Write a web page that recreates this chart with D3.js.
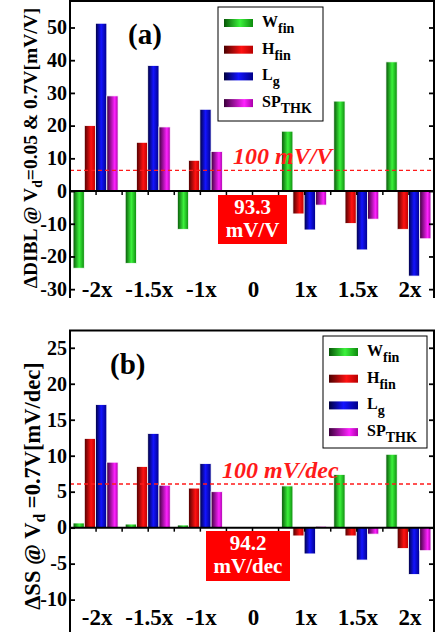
<!DOCTYPE html>
<html>
<head>
<meta charset="utf-8">
<script src="https://cdn.jsdelivr.net/npm/d3@7"></script>
<style>
  body { margin: 0; background: white; }
  text { font-family: "Liberation Serif", "DejaVu Serif", serif; font-weight: bold; }
</style>
</head>
<body>
<div id="container"></div>
<script>
let w = 435;
let h = 632;

// data
let categories = ['-2x', '-1.5x', '-1x', '0', '1x', '1.5x', '2x'];
let seriesNames = ['Wfin', 'Hfin', 'Lg', 'SPTHK'];

let dibl_Wfin  = [-23.6, -22.1, -11.7, 0, 18.3, 27.5, 39.5];
let dibl_Hfin  = [20.0, 14.9, 9.4, 0, -7.0, -9.9, -11.7];
let dibl_Lg    = [51.3, 38.4, 25.0, 0, -11.9, -18.0, -26.0];
let dibl_SPTHK = [29.1, 19.6, 12.1, 0, -4.3, -8.6, -14.6];

let ss_Wfin  = [0.65, 0.5, 0.37, 0, 5.8, 7.4, 10.2];
let ss_Hfin  = [12.4, 8.5, 5.5, 0, -1.15, -1.15, -2.9];
let ss_Lg    = [17.1, 13.1, 8.9, 0, -3.65, -4.5, -6.5];
let ss_SPTHK = [9.1, 5.9, 5.0, 0, 0.2, -0.9, -3.2];

let diblTicks = [-30, -20, -10, 0, 10, 20, 30, 40, 50];
let ssTicks = [-10, -5, 0, 5, 10, 15, 20, 25];

let viz = d3.select('#container')
  .append('svg')
    .attr('width', w)
    .attr('height', h)
    .style('background-color', 'white')
  ;

// cylinder-like gradients for the bars
let gradStops = {
  Wfin:  [['0%', '#075507'], ['55%', '#3cf23c'], ['100%', '#0d8a0d']],
  Hfin:  [['0%', '#4a0000'], ['60%', '#ff1212'], ['100%', '#b80000']],
  Lg:    [['0%', '#00003e'], ['50%', '#1414ff'], ['100%', '#000088']],
  SPTHK: [['0%', '#3a003a'], ['70%', '#ff22ff'], ['100%', '#a800a8']]
};
let defs = viz.append('defs');
seriesNames.forEach(function(s){
  let g = defs.append('linearGradient').attr('id', 'g_' + s)
    .attr('x1', '0%').attr('x2', '100%').attr('y1', '0%').attr('y2', '0%');
  gradStops[s].forEach(function(st){
    g.append('stop').attr('offset', st[0]).attr('stop-color', st[1]);
  });
});

let xLeft = 70;
let xRight = 434;

let xScale = d3.scaleBand().domain(categories).range([xLeft, w]).padding(0);
let innerScale = d3.scaleBand().domain(seriesNames).range([-23, 22]).padding(0);

let subs = { Wfin: ['W', 'fin'], Hfin: ['H', 'fin'], Lg: ['L', 'g'], SPTHK: ['SP', 'THK'] };

function drawPanel(cfg){
  let yScale = d3.scaleLinear().domain(cfg.domain).range(cfg.range);
  let g = viz.append('g');

  // bars
  let rows = [];
  seriesNames.forEach(function(s){
    cfg.values[s].forEach(function(v, i){
      rows.push({ series: s, cat: categories[i], value: v });
    });
  });
  g.selectAll('rect.bar')
    .data(rows.filter(function(d){ return d.value != 0; }))
    .enter()
    .append('rect')
      .attr('class', 'bar')
      .attr('x', function(d){ return xScale(d.cat) + xScale.bandwidth()/2 + innerScale(d.series); })
      .attr('width', innerScale.bandwidth())
      .attr('y', function(d){ return yScale(Math.max(0, d.value)); })
      .attr('height', function(d){ return Math.abs(yScale(d.value) - yScale(0)); })
      .attr('fill', function(d){ return 'url(#g_' + d.series + ')'; })
      .attr('stroke', 'white')
      .attr('stroke-width', 0.8)
  ;

  // dashed reference line
  g.append('line')
    .attr('x1', xLeft).attr('x2', xRight)
    .attr('y1', yScale(cfg.refValue)).attr('y2', yScale(cfg.refValue))
    .attr('stroke', '#ff1a1a').attr('stroke-width', 1.3)
    .attr('stroke-dasharray', '4,3');
  g.append('text')
    .attr('x', cfg.refLabelX).attr('y', yScale(cfg.refValue) - 6)
    .attr('fill', '#ff1a1a').attr('font-style', 'italic')
    .attr('font-size', 24)
    .text(cfg.refLabel);

  // zero line with ticks
  let y0 = yScale(0);
  g.append('line')
    .attr('x1', xLeft).attr('x2', xRight).attr('y1', y0).attr('y2', y0)
    .attr('stroke', 'black').attr('stroke-width', 2);
  let tickXs = [];
  categories.forEach(function(c){
    tickXs.push(xScale(c));
    tickXs.push(xScale(c) + xScale.bandwidth()/2);
  });
  g.selectAll('line.xtick').data(tickXs.filter(function(x){ return x > xLeft + 1; }))
    .enter().append('line')
      .attr('x1', function(d){ return d; }).attr('x2', function(d){ return d; })
      .attr('y1', y0).attr('y2', y0 + 4)
      .attr('stroke', 'black').attr('stroke-width', 1.5);

  // frame: left, top, right
  let yTop = cfg.range[1];
  let yBot = cfg.range[0];
  g.append('path')
    .attr('d', 'M' + xLeft + ',' + yBot + 'V' + yTop + 'H' + xRight + 'V' + yBot)
    .attr('fill', 'none').attr('stroke', 'black').attr('stroke-width', 2);

  // left and right axis ticks (pointing inward)
  let yAxis = d3.axisRight(yScale).tickValues(cfg.ticks).tickSize(5).tickFormat('');
  let yAxisGroup = g.append('g').attr('transform', 'translate(' + xLeft + ',0)').call(yAxis);
  yAxisGroup.select('.domain').remove();
  yAxisGroup.selectAll('line').attr('stroke-width', 1.8);
  let rAxis = d3.axisLeft(yScale).tickValues(cfg.ticks).tickSize(5).tickFormat('');
  let rAxisGroup = g.append('g').attr('transform', 'translate(' + xRight + ',0)').call(rAxis);
  rAxisGroup.select('.domain').remove();
  rAxisGroup.selectAll('line').attr('stroke-width', 1.8);

  g.selectAll('text.ytick').data(cfg.ticks).enter().append('text')
    .attr('x', xLeft - 3)
    .attr('y', function(d){ return yScale(d); })
    .attr('dy', '0.34em')
    .attr('text-anchor', 'end')
    .attr('font-size', 20)
    .text(function(d){ return d; });

  // category labels
  g.selectAll('text.xlab').data(categories).enter().append('text')
    .attr('x', function(d){ return xScale(d) + xScale.bandwidth()/2 + 1; })
    .attr('y', cfg.xLabelY)
    .attr('text-anchor', 'middle')
    .attr('font-size', 23)
    .text(function(d){ return d; });

  // panel letter
  g.append('text').attr('x', cfg.letterX).attr('y', cfg.letterY)
    .attr('font-size', 29).text(cfg.letter);

  // red box with base value
  g.append('rect')
    .attr('x', cfg.box[0]).attr('y', cfg.box[1])
    .attr('width', cfg.box[2]).attr('height', cfg.box[3])
    .attr('fill', '#ff0000');
  cfg.boxText.forEach(function(t, i){
    g.append('text')
      .attr('x', cfg.box[0] + cfg.box[2]/2)
      .attr('y', cfg.box[1] + 19 + i*23)
      .attr('text-anchor', 'middle').attr('fill', 'white')
      .attr('font-size', 21)
      .text(t);
  });

  // legend
  let lg = g.append('g').attr('transform', 'translate(' + cfg.legend[0] + ',' + cfg.legend[1] + ')');
  lg.append('rect').attr('width', cfg.legend[2]).attr('height', cfg.legend[3])
    .attr('fill', 'white').attr('stroke', 'black').attr('stroke-width', 1);
  seriesNames.forEach(function(s, i){
    let yy = 16 + i*26.7;
    lg.append('rect').attr('x', 6).attr('y', yy - 4).attr('width', 29).attr('height', 8)
      .attr('fill', 'url(#g_' + s + ')');
    let t = lg.append('text').attr('x', 44).attr('y', yy + 4).attr('font-size', 16);
    t.append('tspan').text(subs[s][0]);
    t.append('tspan').attr('dy', 6).attr('font-size', 14).text(subs[s][1]);
  });

  // y axis title
  let yt = g.append('text')
    .attr('transform', 'translate(' + cfg.titleX + ',' + cfg.titleY + ') rotate(-90)')
    .attr('text-anchor', 'middle')
    .attr('font-size', cfg.titleFont);
  yt.append('tspan').text(cfg.title[0]);
  yt.append('tspan').attr('dy', 5).attr('font-size', cfg.titleFont * 0.7).text('d');
  yt.append('tspan').attr('dy', -5).text(cfg.title[1]);
}

drawPanel({
  values: { Wfin: dibl_Wfin, Hfin: dibl_Hfin, Lg: dibl_Lg, SPTHK: dibl_SPTHK },
  domain: [-32.7, 58.1], range: [298, 1],
  ticks: diblTicks,
  refValue: 6.3, refLabel: '100 mV/V', refLabelX: 233,
  xLabelY: 297,
  letter: '(a)', letterX: 128, letterY: 44,
  box: [218, 195, 69, 49], boxText: ['93.3', 'mV/V'],
  legend: [218, 7, 105, 114],
  title: ['\u0394DIBL @ V', '=0.05 & 0.7V[mV/V]'], titleX: 37, titleY: 148, titleFont: 19.5
});

drawPanel({
  values: { Wfin: ss_Wfin, Hfin: ss_Hfin, Lg: ss_Lg, SPTHK: ss_SPTHK },
  domain: [-14.5, 27.4], range: [632, 330.5],
  ticks: ssTicks,
  refValue: 6.07, refLabel: '100 mV/dec', refLabelX: 222,
  xLabelY: 625,
  letter: '(b)', letterX: 110, letterY: 374,
  box: [206, 531, 84, 50], boxText: ['94.2', 'mV/dec'],
  legend: [323, 336, 104, 112],
  title: ['\u0394SS @ V', ' =0.7V[mV/dec]'], titleX: 40, titleY: 486, titleFont: 22.5
});
</script>
</body>
</html>
